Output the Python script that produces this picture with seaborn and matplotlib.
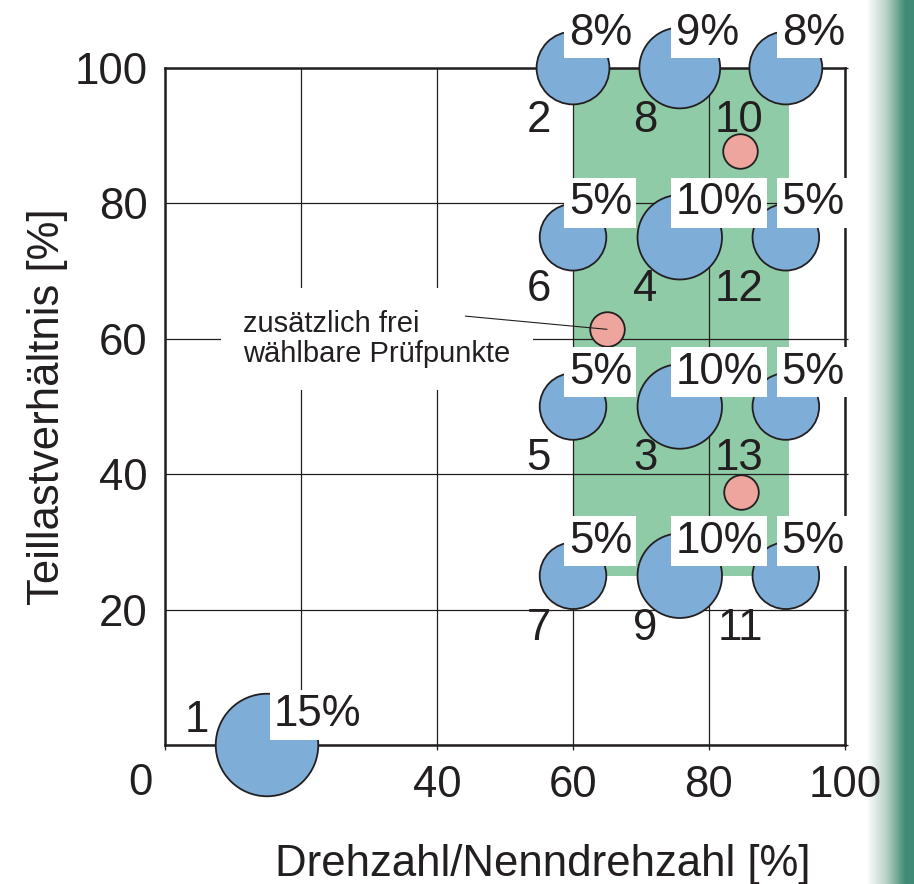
import numpy as np
import pandas as pd
import matplotlib
matplotlib.use("Agg")
import matplotlib.pyplot as plt
from matplotlib.colors import LinearSegmentedColormap
import seaborn as sns

# ESC test modes: number, speed [%], load [%], weighting [%]
modes = [1, 2, 3, 4, 5, 6, 7, 8, 9, 10, 11, 12, 13]
speed = [15, 60, 75.7, 75.7, 60, 60, 60, 75.7, 75.7, 91.3, 91.3, 91.3, 91.3]
load = [0, 100, 50, 75, 50, 75, 25, 100, 25, 100, 25, 75, 50]
weight = [15, 8, 10, 10, 5, 5, 5, 9, 10, 8, 5, 5, 5]

# additional freely selectable test points
extra_speed = [84.6, 65.0, 84.7]
extra_load = [87.7, 61.4, 37.3]

# control area
area_speed = [60, 91.8]
area_load = [25, 100]

x_ticks = [0, 20, 40, 60, 80, 100]
x_ticklabels = ["", "", "40", "60", "80", "100"]
y_ticks = [0, 20, 40, 60, 80, 100]
y_ticklabels = ["", "20", "40", "60", "80", "100"]

INK = "#231f20"
BLUE = "#7eadd8"
PINK = "#eda59e"
GREEN = "#8ecba6"
STRIP = "#3f8a74"
FS = 31.5

sns.set_theme(style="white")
plt.rcParams["font.family"] = ["Liberation Sans", "DejaVu Sans"]
plt.rcParams["text.color"] = INK


def main():
    df = pd.DataFrame({"speed": speed, "load": load, "weight": weight, "mode": modes})
    size_map = {5: 2300, 8: 2750, 9: 3380, 10: 3700, 15: 5450}

    fig = plt.figure(figsize=(9.14, 8.84), dpi=100)

    # decorative green edge strip (behind everything)
    sax = fig.add_axes([866 / 914, 0, 48 / 914, 1])
    cmap = LinearSegmentedColormap.from_list("strip", ["white", "#b9d3c8", STRIP])
    ramp = np.clip(np.linspace(0, 48, 48) / 40, 0, 1)[None, :]
    sax.imshow(ramp, cmap=cmap, aspect="auto", vmin=0, vmax=1)
    sax.set_axis_off()
    sax.set_zorder(-1)

    ax = fig.add_axes([165 / 914, 1 - 745 / 884, 680 / 914, 677 / 884])
    ax.patch.set_alpha(0)

    ax.fill_between(area_speed, area_load[0], area_load[1], color=GREEN, lw=0, zorder=0.2)

    sns.scatterplot(data=df, x="speed", y="load", size="weight", sizes=size_map,
                    color=BLUE, edgecolor=INK, linewidth=1.3, legend=False,
                    zorder=3, ax=ax)
    sns.scatterplot(x=extra_speed, y=extra_load, s=620, color=PINK, edgecolor=INK,
                    linewidth=1.3, legend=False, zorder=3, ax=ax)
    for coll in ax.collections:
        coll.set_clip_on(False)

    for m, x, y, w in zip(df["mode"], df["speed"], df["load"], df["weight"]):
        if m == 1:
            pct_off, num_off = (5, 13.5), (-42, 9)
        else:
            pct_off, num_off = (-3, 16.5), (-16, -46)
        ax.annotate(f"{w}%", (x, y), xytext=pct_off, textcoords="offset points",
                    ha="left", va="baseline", fontsize=FS, zorder=5,
                    bbox=dict(fc="white", ec="none", pad=3), annotation_clip=False)
        ax.annotate(str(m), (x, y), xytext=num_off, textcoords="offset points",
                    ha="right", va="baseline", fontsize=FS, zorder=5,
                    annotation_clip=False)

    ax.text(11.5, 60, "zusätzlich frei\nwählbare Prüfpunkte", fontsize=21,
            ha="left", va="center", linespacing=1.08, zorder=2,
            bbox=dict(fc="white", ec="none", pad=16))
    ax.annotate("", xy=(extra_speed[1], extra_load[1]), xytext=(-102, 9.5),
                textcoords="offset points", zorder=4,
                arrowprops=dict(arrowstyle="-", color=INK, lw=0.8, shrinkA=0, shrinkB=0))

    ax.set_xlim(0, 100)
    ax.set_ylim(0, 100)
    ax.set_xticks(x_ticks)
    ax.set_xticklabels(x_ticklabels)
    ax.set_yticks(y_ticks)
    ax.set_yticklabels(y_ticklabels)
    ax.grid(True, color=INK, lw=0.9)
    ax.set_axisbelow(True)
    ax.tick_params(axis="x", labelsize=FS, colors=INK, length=3.6, width=0.9,
                   direction="out", pad=11, bottom=True)
    ax.tick_params(axis="y", labelsize=FS, colors=INK, length=2.5, width=0.9,
                   direction="out", pad=10, left=False, right=True, labelleft=True)
    ax.annotate("0", (0, 0), xytext=(-18, -27.4), textcoords="offset points",
                ha="center", va="center", fontsize=FS, annotation_clip=False)
    for s in ax.spines.values():
        s.set_color(INK)
        s.set_linewidth(1.8)
        s.set_zorder(2.5)

    ax.set_xlabel("Drehzahl/Nenndrehzahl [%]", fontsize=FS, color=INK)
    ax.xaxis.set_label_coords(0.556, -0.146)
    ax.set_ylabel("Teillastverhältnis [%]", fontsize=FS, color=INK)
    ax.yaxis.set_label_coords(-0.142, 0.5)

    fig.savefig("out.png", dpi=100)


if __name__ == "__main__":
    main()
